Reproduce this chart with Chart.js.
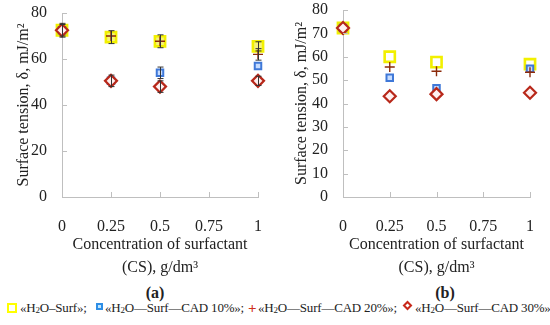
<!DOCTYPE html>
<html><head><meta charset="utf-8">
<script src="https://cdn.jsdelivr.net/npm/chart.js@4.4.1/dist/chart.umd.min.js"></script>
<style>
html,body{margin:0;padding:0;background:#fff;}
#wrap{position:relative;width:550px;height:325px;overflow:hidden;font-family:"Liberation Serif",serif;color:#222;}
.cv{position:absolute;top:0;}
.lab{position:absolute;font-weight:bold;font-size:16px;transform:translate(-50%,-50%);}
.leg{position:absolute;top:308px;font-size:13px;letter-spacing:-0.2px;transform:translateY(-50%);white-space:nowrap;line-height:1;}
.leg sub{font-size:9px;vertical-align:-1px;}
.sym{position:absolute;box-sizing:border-box;}
</style></head><body>
<div id="wrap">
<canvas id="ca" class="cv" width="275" height="279" style="left:0"></canvas>
<canvas id="cb" class="cv" width="275" height="279" style="left:275px"></canvas>
<div class="lab" style="left:155px;top:293px">(a)</div>
<div class="lab" style="left:445px;top:293px">(b)</div>
<div class="sym" style="left:7px;top:303px;width:10px;height:10px;border:2px solid #ffff00;background:#fff;"></div>
<div class="leg" style="left:20px">«H<sub>2</sub>O–Surf»;</div>
<div class="sym" style="left:96px;top:303px;width:7px;height:7px;border:2px solid #2e8ee6;background:#bfe6ff;"></div>
<div class="leg" style="left:105px">«H<sub>2</sub>O—Surf—CAD 10%»;</div>
<div class="leg" style="left:248px;color:#d0301a;font-size:15px;font-weight:bold;">+</div>
<div class="leg" style="left:258px">«H<sub>2</sub>O—Surf—CAD 20%»;</div>
<div class="sym" style="left:404px;top:302px;width:7px;height:7px;border:2px solid #c8281a;background:#fff;transform:rotate(45deg);"></div>
<div class="leg" style="left:415px">«H<sub>2</sub>O—Surf—CAD 30%»</div>
</div>
<script>
// ---- data ----
const categories = [0, 0.25, 0.5, 1];
const xTickValues = [0, 0.25, 0.5, 0.75, 1];
const xTickLabels = ['0', '0.25', '0.5', '0.75', '1'];
const yTicksA = [0, 20, 40, 60, 80];
const yTicksB = [0, 10, 20, 30, 40, 50, 60, 70, 80];

// panel (a)
const aSurf  = [72.5, 69.5, 67.7, 65.5];
const aCad10 = [72.5, 50.5, 54.0, 57.0];
const aCad20 = [72.5, 70.0, 67.7, 62.0];
const aCad30 = [72.5, 50.5, 48.0, 50.5];
const aSurfErr  = [3.0, 2.8, 2.8, 2.0];
const aCad10Err = [0, 0, 2.5, 0];
const aCad20Err = [0, 0, 0, 2.5];
const aCad30Err = [2.5, 2.5, 2.5, 2.0];

// panel (b)
const bSurf  = [72.3, 60.0, 57.7, 56.8];
const bCad10 = [72.3, 51.0, 46.5, 54.9];
const bCad20 = [71.5, 55.6, 53.8, 53.4];
const bCad30 = [72.3, 43.1, 44.0, 44.6];

// ---- helpers ----
const FONT = '"Liberation Serif", serif';
const AXIS = '#bfbfbf';
const TXT = '#222';
const pts = arr => categories.map((c, i) => ({x: c, y: arr[i]}));

const inwardTicks = {
  id: 'inwardTicks',
  afterDraw(chart) {
    const ctx = chart.ctx, xs = chart.scales.x, ys = chart.scales.y, a = chart.chartArea;
    ctx.save(); ctx.strokeStyle = AXIS; ctx.lineWidth = 1;
    xs.ticks.forEach(t => {
      const px = Math.round(xs.getPixelForValue(t.value)) + 0.5;
      ctx.beginPath(); ctx.moveTo(px, a.bottom); ctx.lineTo(px, a.bottom - 5); ctx.stroke();
    });
    ys.ticks.forEach(t => {
      const py = Math.round(ys.getPixelForValue(t.value)) + 0.5;
      ctx.beginPath(); ctx.moveTo(a.left, py); ctx.lineTo(a.left + 5, py); ctx.stroke();
    });
    ctx.restore();
  }
};

const errorBars = {
  id: 'errorBars',
  afterDatasetsDraw(chart) {
    const ctx = chart.ctx, xs = chart.scales.x, ys = chart.scales.y;
    ctx.save(); ctx.strokeStyle = '#333'; ctx.lineWidth = 1;
    chart.data.datasets.forEach(ds => {
      if (!ds.errors) return;
      ds.data.forEach((p, i) => {
        const e = ds.errors[i]; if (!e) return;
        const px = Math.round(xs.getPixelForValue(p.x)) + 0.5;
        const y1 = ys.getPixelForValue(p.y + e), y2 = ys.getPixelForValue(p.y - e);
        ctx.beginPath();
        ctx.moveTo(px, y1); ctx.lineTo(px, y2);
        ctx.moveTo(px - 3, y1); ctx.lineTo(px + 3, y1);
        ctx.moveTo(px - 3, y2); ctx.lineTo(px + 3, y2);
        ctx.stroke();
      });
    });
    ctx.restore();
  }
};

function makeChart(id, d, yTicks, opt) {
  const datasets = [
    {label: 'CAD30', data: pts(d[3]), errors: d.err ? d.err[3] : null, pointStyle: 'rectRot', pointRadius: 6,
     borderColor: '#b8281a', backgroundColor: '#fff0f0', borderWidth: 2.2, clip: false},
    {label: 'CAD20', data: pts(d[2]), errors: d.err ? d.err[2] : null, pointStyle: 'cross', pointRadius: 5,
     borderColor: '#8b2a0a', backgroundColor: '#8b2a0a', borderWidth: 1.4, clip: false},
    {label: 'CAD10', data: pts(d[1]), errors: d.err ? d.err[1] : null, pointStyle: 'rect', pointRadius: 4.6,
     borderColor: '#3f78d8', backgroundColor: '#c6dcff', borderWidth: 2, clip: false},
    {label: 'Surf', data: pts(d[0]), errors: d.err ? d.err[0] : null, pointStyle: 'rect', pointRadius: 7.2,
     borderColor: '#f2f000', backgroundColor: opt.surfFill, borderWidth: 2.6, clip: false},
  ];
  return new Chart(document.getElementById(id), {
    type: 'scatter',
    data: {datasets},
    options: {
      responsive: false, animation: false, events: [],
      layout: {padding: opt.padding},
      plugins: {legend: {display: false}, tooltip: {enabled: false}},
      scales: {
        x: {
          type: 'linear', min: 0, max: 1,
          afterBuildTicks(s) { s.ticks = xTickValues.map(v => ({value: v})); },
          afterFit(s) { s.height = opt.xH; s.paddingLeft = 0; s.paddingRight = 0; },
          ticks: {padding: opt.xPad, color: TXT, font: {family: FONT, size: 16}, autoSkip: false, maxRotation: 0,
                  callback: (v, i) => xTickLabels[i]},
          grid: {drawOnChartArea: false, drawTicks: false},
          border: {color: AXIS},
          title: {display: true, text: ['Concentration of surfactant', '(CS), g/dm³'], color: TXT,
                  font: {family: FONT, size: 16, lineHeight: 1.42}, padding: {top: 0, bottom: 0}}
        },
        y: {
          min: 0, max: 80,
          afterBuildTicks(s) { s.ticks = yTicks.map(v => ({value: v})); },
          afterFit(s) { s.width = opt.yW; s.paddingTop = 0; s.paddingBottom = 0; },
          ticks: {padding: 15, color: TXT, font: {family: FONT, size: 16}, autoSkip: false},
          grid: {drawOnChartArea: false, drawTicks: false},
          border: {color: AXIS},
          title: {display: true, text: 'Surface tension, δ, mJ/m²', color: TXT,
                  font: {family: FONT, size: 16}, padding: {top: 0, bottom: 0}}
        }
      }
    },
    plugins: [errorBars, inwardTicks]
  });
}

const dA = [aSurf, aCad10, aCad20, aCad30];
dA.err = [aSurfErr, aCad10Err, aCad20Err, aCad30Err];
const dB = [bSurf, bCad10, bCad20, bCad30];

makeChart('ca', dA, yTicksA, {padding: {left: 14, top: 13, right: 17, bottom: 0}, yW: 48, xH: 82, xPad: 20, surfFill: '#f6f27a'});
makeChart('cb', dB, yTicksB, {padding: {left: 17, top: 10, right: 20, bottom: 0}, yW: 51, xH: 82, xPad: 20, surfFill: '#ffffff'});
</script>
</body></html>
